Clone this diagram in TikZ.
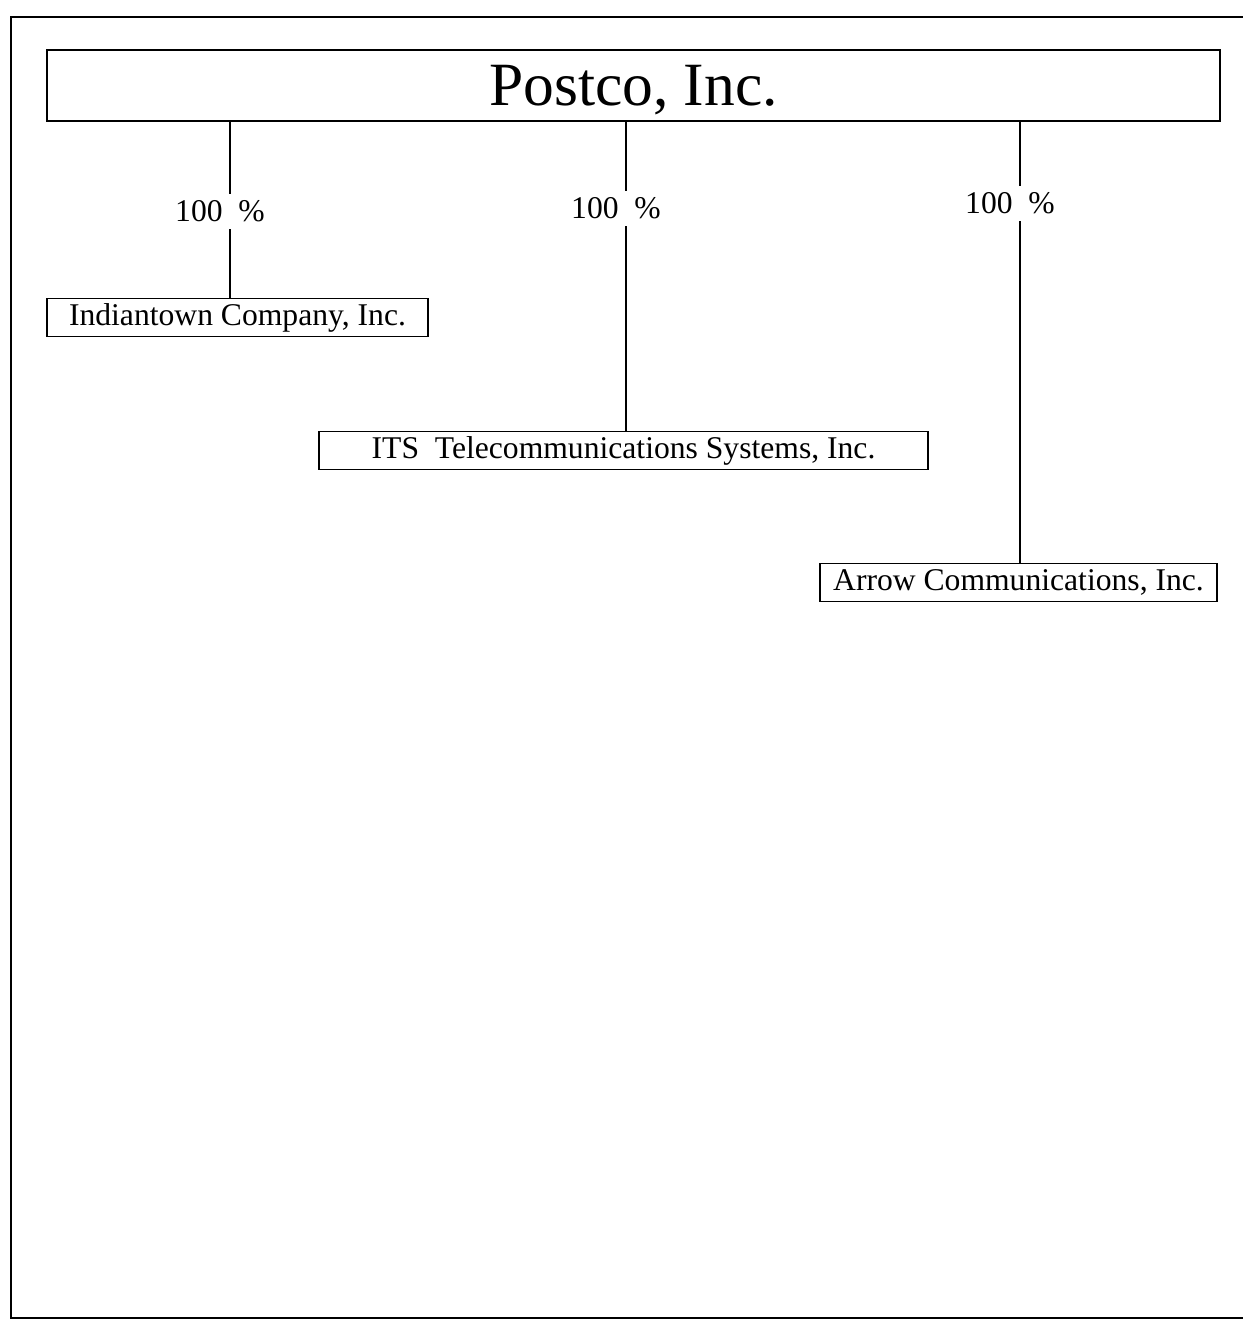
\documentclass[tikz,border=0pt]{standalone}
\usepackage{fontspec}
\setmainfont{Liberation Serif}
\usetikzlibrary{positioning}

\begin{document}
\begin{tikzpicture}[
  x=0.02cm,y=-0.02cm,
  firm/.style={draw,line width=0.9pt,inner sep=0pt,minimum height=0.76cm,font=\fontsize{18}{20}\selectfont},
  parent/.style={firm,minimum width=23.46cm,minimum height=1.42cm,text depth=0pt,font=\fontsize{35}{40}\selectfont},
  pct/.style={fill=white,inner sep=0pt,minimum height=0.7cm,xshift=-0.2cm,font=\fontsize{18}{20}\selectfont},
  every edge/.style={draw,line width=0.8pt}
]
\useasboundingbox (0,0) rectangle (1243,1323);
% outer frame, open at the right edge
\draw[line width=1pt] (1243,17) -- (11,17) -- (11,1318) -- (1243,1318);
\node[parent] (postco) at (633.5,85.5) {Postco, Inc.};
\node[firm,minimum width=7.62cm] (indian) at (237.5,317.5) {Indiantown Company, Inc.};
\node[firm,minimum width=12.18cm] (its) at (623.5,450.5) {ITS\ \ Telecommunications Systems, Inc.};
\node[firm,minimum width=7.94cm] (arrow) at (1018.5,582.5) {Arrow Communications, Inc.};
\path ([xshift=-0.15cm]indian.north |- postco.south) edge node[pct,pos=0.51]{100\hspace{0.5em}\%} ([xshift=-0.15cm]indian.north)
      ([xshift=0.05cm]its.north |- postco.south) edge node[pct,pos=0.28]{100\hspace{0.5em}\%} ([xshift=0.05cm]its.north)
      ([xshift=0.03cm]arrow.north |- postco.south) edge node[pct,pos=0.185]{100\hspace{0.5em}\%} ([xshift=0.03cm]arrow.north);
\end{tikzpicture}
\end{document}
